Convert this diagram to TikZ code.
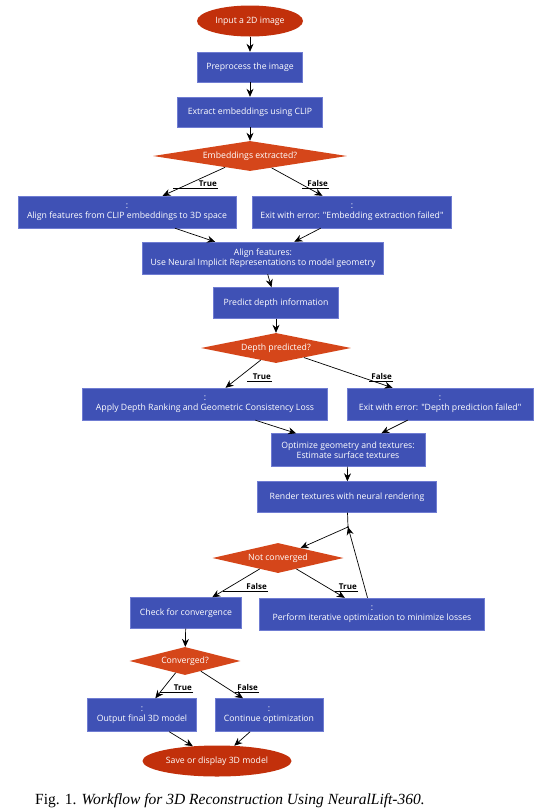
\documentclass[tikz,border=0pt]{standalone}
\usepackage{fontspec}
\setmainfont{Liberation Serif}
\newfontfamily\flowfont{Open Sans}
\usetikzlibrary{shapes.geometric, arrows.meta}

\definecolor{boxblue}{HTML}{3F51B5}
\definecolor{boxedge}{HTML}{6F7CD2}
\definecolor{askorange}{HTML}{D5461A}
\definecolor{termred}{HTML}{C2300B}

\begin{document}
\begin{tikzpicture}[x=1pt, y=-1pt,
    box/.style={rectangle, fill=boxblue, draw=boxedge, text=white, align=center, inner sep=0pt,
        font=\flowfont\fontsize{8.7}{10}\selectfont},
    ask/.style={diamond, fill=askorange, text=white, inner sep=0pt, aspect=6,
        font=\flowfont\fontsize{8.7}{10}\selectfont},
    term/.style={ellipse, fill=termred, text=white, inner sep=0pt,
        font=\flowfont\fontsize{8.7}{10}\selectfont},
    lbl/.style={anchor=south east, inner sep=1pt, font=\flowfont\bfseries\fontsize{8}{9}\selectfont},
    arr/.style={-{Stealth[length=8pt, width=7pt]}, line width=0.7pt},
    uline/.style={line width=0.6pt}]
    \useasboundingbox (0,0) rectangle (547,812);

    % Nodes
    \node[term, minimum width=106, minimum height=31] (start) at (250,21) {Input a 2D image};
    \node[box, minimum width=105, minimum height=30] (prep) at (250,67) {Preprocess the image};
    \node[box, minimum width=145, minimum height=30] (clip) at (250,112) {Extract embeddings using CLIP};
    \node[ask, minimum width=194, minimum height=30] (embok) at (250,156) {Embeddings extracted?};
    \node[box, minimum width=218, minimum height=32] (align) at (127,212) {:\\Align features from CLIP embeddings to 3D space};
    \node[box, minimum width=199, minimum height=32] (embfail) at (352,212) {:\\Exit with error: "Embedding extraction failed"};
    \node[box, minimum width=241, minimum height=32] (nir) at (263,258) {Align features:\\Use Neural Implicit Representations to model geometry};
    \node[box, minimum width=125, minimum height=31] (depth) at (276,303) {Predict depth information};
    \node[ask, minimum width=150, minimum height=30] (depthok) at (276,348) {Depth predicted?};
    \node[box, minimum width=245, minimum height=32] (rank) at (205,404) {:\\Apply Depth Ranking and Geometric Consistency Loss};
    \node[box, minimum width=186, minimum height=32] (depthfail) at (440,404) {:\\Exit with error: "Depth prediction failed"};
    \node[box, minimum width=154, minimum height=33] (optim) at (348,450) {Optimize geometry and textures:\\Estimate surface textures};
    \node[box, minimum width=179, minimum height=31] (render) at (347,497) {Render textures with neural rendering};
    \node[circle, fill=black, inner sep=0pt, minimum size=2pt] (junc) at (348,527) {};
    \node[ask, minimum width=131, minimum height=30] (notconv) at (278,558) {Not converged};
    \node[box, minimum width=111, minimum height=31] (check) at (186,613) {Check for convergence};
    \node[box, minimum width=225, minimum height=32] (iter) at (372,614) {:\\Perform iterative optimization to minimize losses};
    \node[ask, minimum width=111, minimum height=28] (conv) at (185,661) {Converged?};
    \node[box, minimum width=109, minimum height=33] (final) at (142,715) {:\\Output final 3D model};
    \node[box, minimum width=108, minimum height=33] (cont) at (269,715) {:\\Continue optimization};
    \node[term, minimum width=149, minimum height=31] (save) at (217,761) {Save or display 3D model};

    % Connectors
    \draw[arr] (start) -- (prep);
    \draw[arr] (prep) -- (clip);
    \draw[arr] (clip) -- (embok);
    \draw[arr] (embok) -- (align);
    \draw[arr] (embok) -- (embfail);
    \draw[arr] (align) -- (nir);
    \draw[arr] (embfail) -- (nir);
    \draw[arr] (nir) -- (depth);
    \draw[arr] (depth) -- (depthok);
    \draw[arr] (depthok) -- (rank);
    \draw[arr] (depthok) -- (depthfail);
    \draw[arr] (rank) -- (optim);
    \draw[arr] (depthfail) -- (optim);
    \draw[arr] (optim) -- (render);
    \draw[line width=0.7pt] (render) -- (junc.center);
    \draw[arr] (junc.center) -- (notconv);
    \draw[arr] (notconv) -- (check);
    \draw[arr] (notconv) -- (iter);
    \draw[arr] (iter) -- (junc.center);
    \draw[arr] (check) -- (conv);
    \draw[arr] (conv) -- (final);
    \draw[arr] (conv) -- (cont);
    \draw[arr] (final) -- (save);
    \draw[arr] (cont) -- (save);

    % Edge labels
    \node[lbl] (true1) at (218,188) {True};
    \draw[uline] (true1.south east) -- ++(-45,0);
    \node[lbl] (false1) at (329,188) {False};
    \draw[uline] (false1.south east) -- ++(-27,0);
    \node[lbl] (true2) at (272,381) {True};
    \draw[uline] (true2.south east) -- ++(-25,0);
    \node[lbl] (false2) at (393,381) {False};
    \draw[uline] (false2.south east) -- ++(-24,0);
    \node[lbl] (false3) at (268,591) {False};
    \draw[uline] (false3.south east) -- ++(-45,0);
    \node[lbl] (true3) at (358,591) {True};
    \draw[uline] (true3.south east) -- ++(-23,0);
    \node[lbl] (true4) at (193,692) {True};
    \draw[uline] (true4.south east) -- ++(-33,0);
    \node[lbl] (false4) at (259,692) {False};
    \draw[uline] (false4.south east) -- ++(-24,0);

    % Caption
    \node[anchor=base west, inner sep=0pt, font=\fontsize{15.5}{18}\selectfont] (caption) at (35,804)
        {Fig. 1. \textit{Workflow for 3D Reconstruction Using NeuralLift-360.}};
\end{tikzpicture}
\end{document}
